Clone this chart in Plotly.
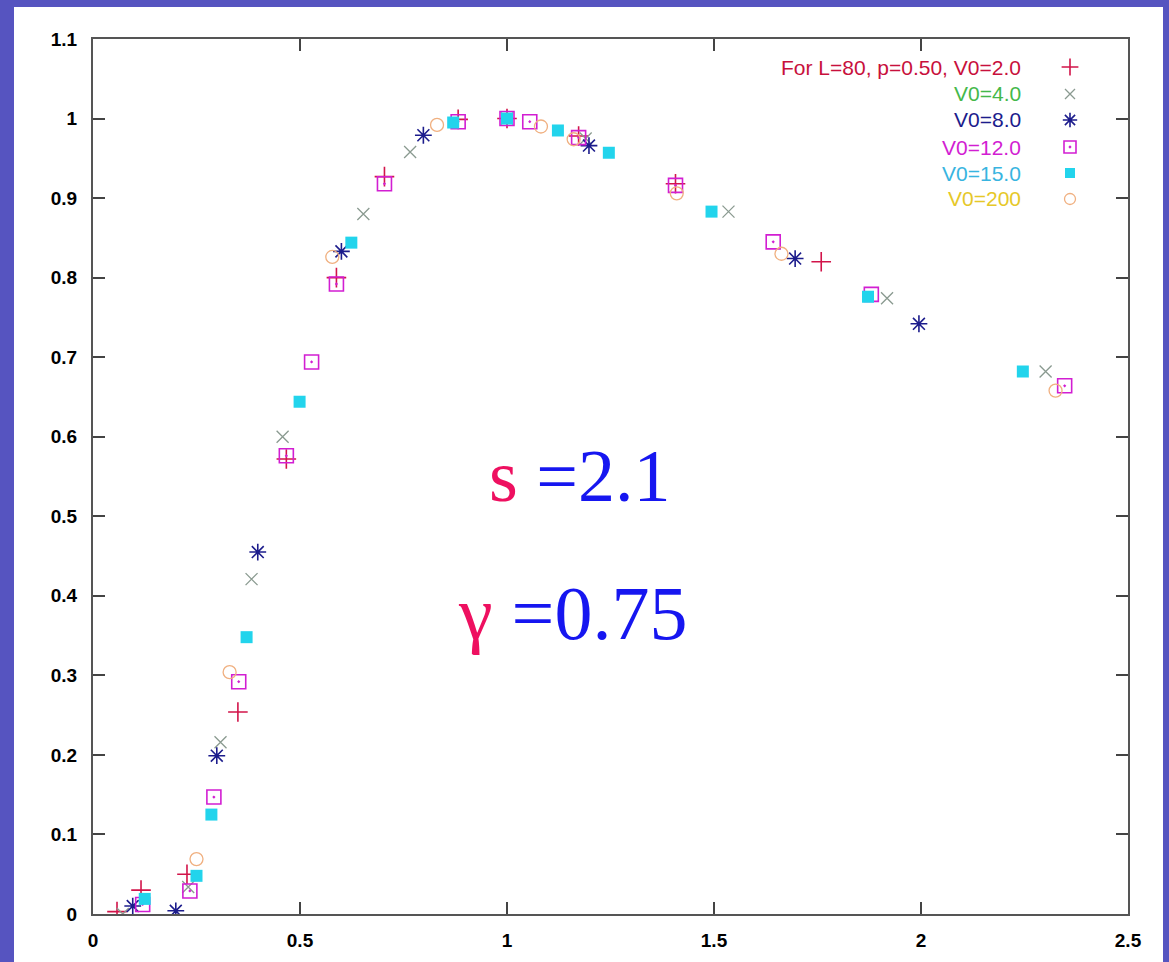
import plotly.graph_objects as go

# ---- data ----
x_v2 = [0.058, 0.116, 0.227, 0.35, 0.467, 0.588, 0.704, 0.882, 1.0, 1.173, 1.407, 1.759]
y_v2 = [0.003, 0.030, 0.050, 0.254, 0.572, 0.800, 0.927, 0.999, 1.0, 0.978, 0.918, 0.820]

x_v4 = [0.072, 0.23, 0.308, 0.383, 0.458, 0.653, 0.766, 1.0, 1.19, 1.535, 1.918, 2.301]
y_v4 = [0.0, 0.034, 0.216, 0.421, 0.600, 0.880, 0.958, 1.0, 0.975, 0.883, 0.774, 0.682]

x_v8 = [0.096, 0.20, 0.299, 0.398, 0.60, 0.798, 1.198, 1.696, 1.995]
y_v8 = [0.010, 0.004, 0.199, 0.455, 0.833, 0.979, 0.966, 0.824, 0.742]

x_v12 = [0.12, 0.234, 0.292, 0.352, 0.467, 0.528, 0.588, 0.704, 0.882, 1.0, 1.055, 1.173, 1.407, 1.643, 1.88, 2.347]
y_v12 = [0.012, 0.029, 0.147, 0.292, 0.576, 0.694, 0.792, 0.918, 0.996, 1.0, 0.996, 0.976, 0.916, 0.845, 0.779, 0.664]

x_v15 = [0.125, 0.25, 0.286, 0.371, 0.499, 0.624, 0.87, 1.0, 1.123, 1.246, 1.494, 1.872, 2.246]
y_v15 = [0.019, 0.048, 0.125, 0.348, 0.644, 0.844, 0.995, 1.0, 0.985, 0.957, 0.883, 0.776, 0.682]

x_v200 = [0.25, 0.33, 0.578, 0.831, 1.082, 1.161, 1.41, 1.663, 2.325]
y_v200 = [0.069, 0.304, 0.826, 0.992, 0.99, 0.974, 0.906, 0.830, 0.658]

legend_labels = ["For L=80, p=0.50, V0=2.0", "V0=4.0", "V0=8.0", "V0=12.0", "V0=15.0", "V0=200"]
x_ticks = [0, 0.5, 1, 1.5, 2, 2.5]
x_tick_labels = ["0", "0.5", "1", "1.5", "2", "2.5"]
y_ticks = [0, 0.1, 0.2, 0.3, 0.4, 0.5, 0.6, 0.7, 0.8, 0.9, 1.0, 1.1]
y_tick_labels = ["0", "0.1", "0.2", "0.3", "0.4", "0.5", "0.6", "0.7", "0.8", "0.9", "1", "1.1"]

# ---- styles ----
series = [
    (x_v2, y_v2, dict(symbol="cross-thin", size=14, color="#d2144a", line=dict(width=1.6, color="#d2144a")), "#c8103c"),
    (x_v4, y_v4, dict(symbol="x-thin", size=12, color="#8a9a90", line=dict(width=1.3, color="#8a9a90")), "#44b84a"),
    (x_v8, y_v8, dict(symbol="asterisk", size=14, color="#1c1c8c", line=dict(width=1.6, color="#1c1c8c")), "#1c1c8c"),
    (x_v12, y_v12, dict(symbol="square-open-dot", size=14, color="#d21ed2", line=dict(width=1.6, color="#d21ed2")), "#d21ed2"),
    (x_v15, y_v15, dict(symbol="square", size=12, color="#22d4ec", line=dict(width=0)), "#38b4e0"),
    (x_v200, y_v200, dict(symbol="circle-open", size=13, color="#f0b080", line=dict(width=1.3, color="#f0b080")), "#e6c828"),
]

W, H = 1169, 962
L, R, T, B = 93, 41, 39, 48
pw, ph = W - L - R, H - T - B

def px_to_paper_x(px):
    return (px - L) / pw

def px_to_paper_y(py):
    return (H - B - py) / ph

fig = go.Figure()
for (xs, ys, mk, _), name in zip(series, legend_labels):
    fig.add_trace(go.Scatter(x=xs, y=ys, mode="markers", marker=mk, name=name,
                             showlegend=False, hoverinfo="x+y"))

# legend keys on a hidden overlay axis (0..1 across plot area)
leg_rows_px = [67, 94, 120, 147, 173, 199]
for (xs, ys, mk, tcol), name, ry in zip(series, legend_labels, leg_rows_px):
    small = dict(mk)
    small["size"] = mk["size"] - 2
    fig.add_trace(go.Scatter(x=[px_to_paper_x(1070)], y=[px_to_paper_y(ry)], mode="markers",
                             marker=small, xaxis="x2", yaxis="y2", showlegend=False, hoverinfo="skip"))
    fig.add_annotation(x=px_to_paper_x(1023), y=px_to_paper_y(ry), xref="paper", yref="paper",
                       text=name, showarrow=False, xanchor="right", yanchor="middle",
                       font=dict(family="Liberation Sans, Arial, sans-serif", size=21, color=tcol))

# big formula text
fig.add_annotation(x=px_to_paper_x(580), y=px_to_paper_y(476), xref="paper", yref="paper",
                   text='<span style="color:#ee1060">s</span> =2.1', showarrow=False,
                   xanchor="center", yanchor="middle",
                   font=dict(family="Liberation Serif, Times New Roman, serif", size=74, color="#1616f0"))
fig.add_annotation(x=px_to_paper_x(572), y=px_to_paper_y(613), xref="paper", yref="paper",
                   text='<span style="color:#ee1060">γ</span> =0.75', showarrow=False,
                   xanchor="center", yanchor="middle",
                   font=dict(family="Liberation Serif, Times New Roman, serif", size=76, color="#1616f0"))

# white slide panel over blue background
fig.add_shape(type="rect", xref="paper", yref="paper", layer="below",
              x0=px_to_paper_x(14), x1=px_to_paper_x(1163),
              y0=px_to_paper_y(970), y1=px_to_paper_y(7),
              fillcolor="white", line=dict(width=0))

axis_common = dict(showgrid=False, zeroline=False, showline=True, linecolor="#555555", linewidth=2,
                   mirror="ticks", ticks="inside", ticklen=12, tickwidth=1.5, tickcolor="#444444",
                   tickfont=dict(family="Liberation Sans, Arial, sans-serif", size=19, color="#000000",
                                 weight="bold"))

fig.update_layout(
    width=W, height=H,
    margin=dict(l=L, r=R, t=T, b=B),
    paper_bgcolor="#5654c0",
    plot_bgcolor="white",
    showlegend=False,
    xaxis=dict(range=[0, 2.5], tickvals=x_ticks, ticktext=x_tick_labels, ticklabelstandoff=8, **axis_common),
    yaxis=dict(range=[0, 1.1], tickvals=y_ticks, ticktext=y_tick_labels, ticklabelstandoff=10, **axis_common),
    xaxis2=dict(range=[0, 1], overlaying="x", visible=False, fixedrange=True),
    yaxis2=dict(range=[0, 1], overlaying="y", visible=False, fixedrange=True),
)

fig.write_html("out.html", config={"displayModeBar": False},
               post_script="document.body.style.margin='0';document.body.style.background='#5654c0';")
